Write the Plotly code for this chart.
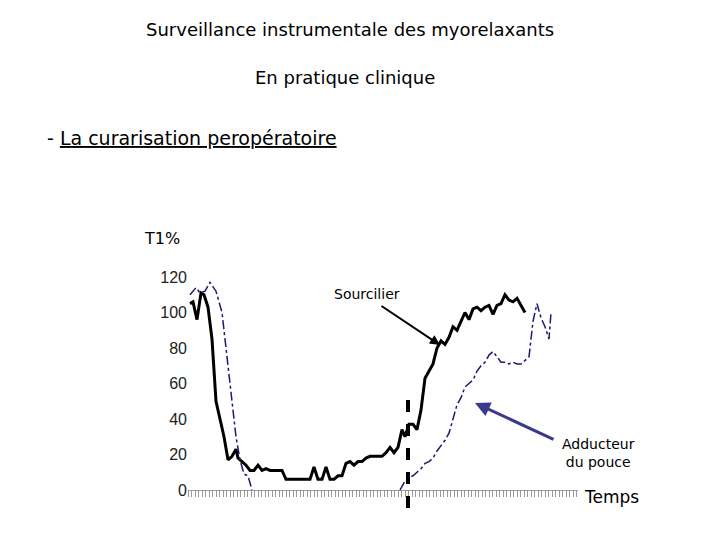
import plotly.graph_objects as go

# time (arbitrary units) and T1% values
t_sourc = [2, 5, 9, 13, 16, 20, 24, 28, 32, 36, 40, 44, 48, 50, 54, 58, 62, 66, 70, 74, 78, 82, 86, 90, 94, 98,
           102, 106, 110, 114, 118, 122, 126, 130, 134, 138, 142, 146, 150, 154, 158, 162, 166, 170, 174, 178,
           182, 186, 190, 194, 198, 202, 206, 210, 214, 217, 221, 225, 229, 233, 237, 241, 245, 249, 253, 257,
           261, 265, 269, 273, 277, 281, 285, 289, 293, 297, 301, 305, 309, 313, 317, 321, 325, 329, 333, 337]
sourcilier = [105, 106, 96, 111, 110, 103, 85, 50, 40, 30, 17, 19, 23, 18, 16, 14, 11, 11, 14, 11, 12, 11, 11, 11,
              11, 6, 6, 6, 6, 6, 6, 6, 13, 6, 6, 13, 6, 6, 8, 8, 15, 16, 14, 16, 16, 18,
              19, 19, 19, 19, 21, 24, 21, 24, 34, 30, 37, 37, 34, 45, 63, 67, 71, 80, 84, 82,
              86, 92, 90, 95, 100, 96, 102, 103, 101, 103, 104, 99, 104, 105, 110, 107, 106, 108, 104, 100]

t_add1 = [2, 8, 12, 17, 22, 28, 34, 42, 48, 52, 56, 60, 62, 64]
adducteur1 = [110, 114, 111, 112, 117, 112, 100, 60, 30, 17, 9, 8, 4, 0]
t_add2 = [212, 217, 221, 225, 229, 233, 237, 241, 245, 249, 253, 257, 261, 265, 269, 273, 277, 281, 285, 289,
          293, 297, 301, 305, 309, 313, 317, 321, 325, 329, 333, 337, 341, 345, 349, 353, 357, 361, 363]
adducteur2 = [0, 5, 7, 8, 10, 12, 15, 16, 18, 22, 25, 28, 32, 40, 48, 52, 58, 60, 62, 67,
              70, 72, 76, 78, 75, 72, 72, 71, 72, 71, 71, 73, 75, 95, 105, 97, 92, 85, 100]

FONT = "DejaVu Sans"
W, H = 720, 540
L, R, T, B = 188, 578, 277, 490
OFF = 8  # page margin of the html body


def px(x, y):
    return (x - L) / (R - L), (B - y) / (B - T)


fig = go.Figure()
fig.add_trace(go.Scatter(x=t_sourc, y=sourcilier, mode="lines", line=dict(color="black", width=3)))
for tx, ty in [(t_add1, adducteur1), (t_add2, adducteur2)]:
    fig.add_trace(go.Scatter(x=tx, y=ty, mode="lines", line=dict(color="#1a1a6e", width=1.5, dash="dashdot")))

fig.add_shape(type="line", xref="x", yref="paper", x0=220, x1=220, y0=px(0, 400)[1], y1=px(0, 520)[1],
              line=dict(color="black", width=4, dash="dash"))

ann = []


def text(s, x, y, size=17, xanchor="center"):
    a, b = px(x, y)
    ann.append(dict(text=s, xref="paper", yref="paper", x=a, y=b, showarrow=False,
                    xanchor=xanchor, yanchor="middle",
                    font=dict(family=FONT, size=size, color="black")))


text("Surveillance instrumentale des myorelaxants", 350, 30, 18)
text("En pratique clinique", 345, 77, 18)
text("- <u>La curarisation peropératoire</u>", 45, 138, 19, xanchor="left")
text("T1%", 162, 238, 16)
text("Sourcilier", 367, 294, 14)
text("Adducteur<br>du pouce", 598, 453, 14)
text("Temps", 611, 497, 17)

for (x0, y0, x1, y1, c, w) in [(380, 305, 440, 345, "black", 2), (555, 440, 475, 403, "#3a3a8a", 3)]:
    a1, b1 = px(x1, y1)
    ann.append(dict(xref="paper", yref="paper", x=a1, y=b1, axref="pixel", ayref="pixel",
                    ax=x0 - x1, ay=y0 - y1, showarrow=True, arrowhead=2, arrowsize=1,
                    arrowwidth=w, arrowcolor=c, text=""))

fig.update_layout(
    width=W, height=H, showlegend=False, plot_bgcolor="white", paper_bgcolor="white",
    margin=dict(l=L - OFF, r=W - R + OFF, t=T - OFF, b=H - B + OFF), annotations=ann,
    xaxis=dict(range=[0, 390], showgrid=False, zeroline=False, showline=True, linecolor="#999",
               ticks="outside", tick0=0, dtick=3.5, ticklen=6, tickcolor="#999", showticklabels=False),
    yaxis=dict(range=[0, 120], dtick=20, showgrid=False, zeroline=False, showline=False,
               tickfont=dict(family="Liberation Sans", size=16, color="#222")),
)
fig.write_html("out.html")
